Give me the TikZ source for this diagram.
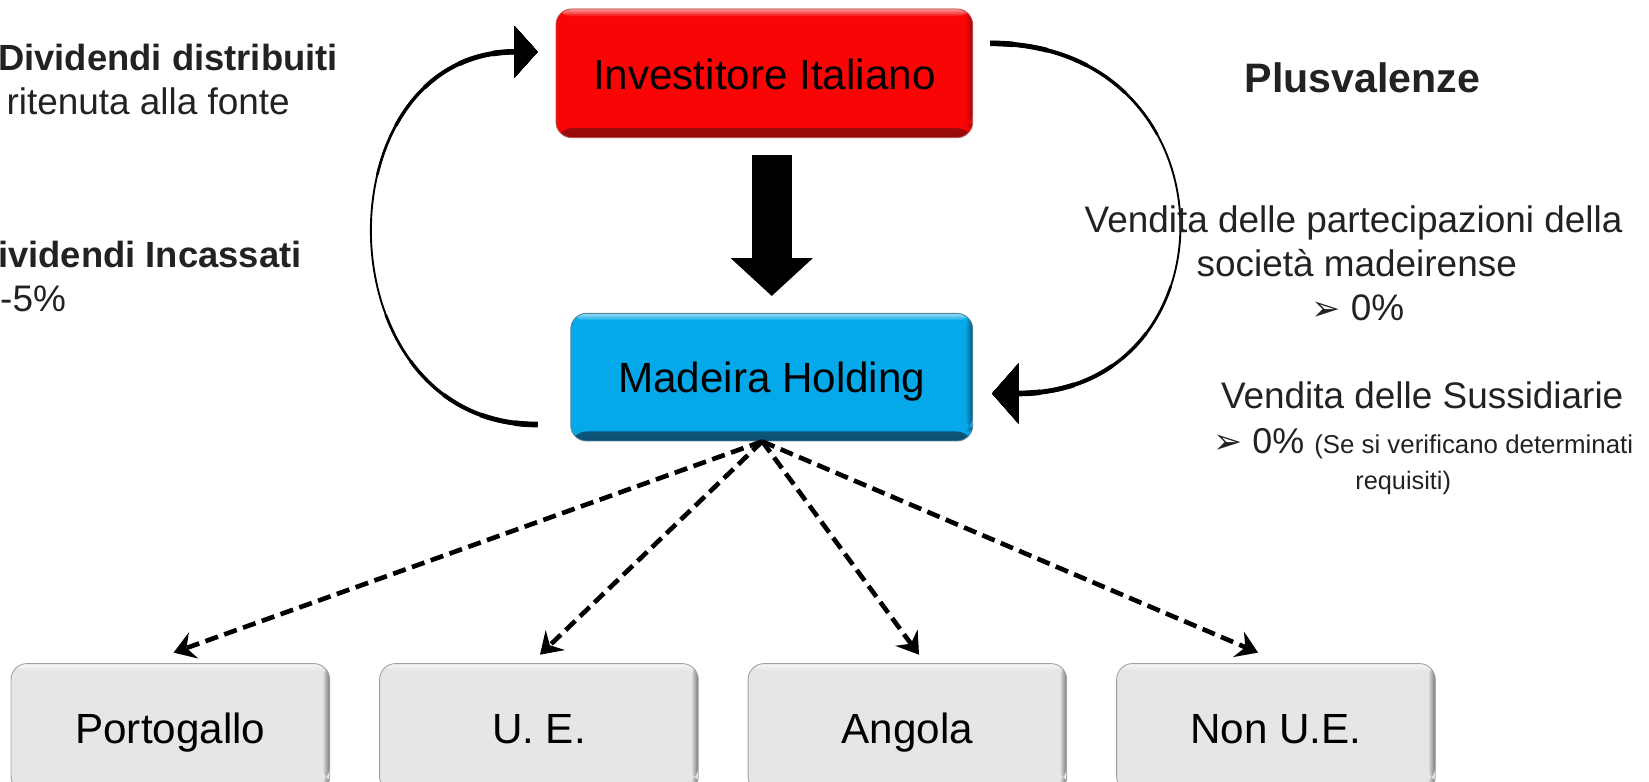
\documentclass[tikz,border=0pt]{standalone}
\usepackage{fontspec}
\setmainfont{Liberation Sans}
\newfontfamily\dingfont{DejaVu Sans}
\usetikzlibrary{arrows.meta,positioning,calc}

\definecolor{boxred}{RGB}{250,5,5}
\definecolor{boxredd}{RGB}{150,10,10}
\definecolor{boxblue}{RGB}{5,168,232}
\definecolor{boxblued}{RGB}{12,80,115}
\definecolor{boxgrey}{RGB}{230,230,230}
\definecolor{boxgreyd}{RGB}{120,120,120}
\definecolor{textgrey}{RGB}{34,34,34}

\newcommand{\setfs}[2]{\fontsize{#1}{#2}\selectfont}

\begin{document}
\begin{tikzpicture}[x=1pt, y=1pt, node distance=46.5pt,
  bevel/.style 2 args = {fill=#1, draw=#2!70, line width=0.8pt, path picture={
      \shade[top color=#1, bottom color=#2] ([yshift=9pt]path picture bounding box.south west) rectangle (path picture bounding box.south east);
      \shade[left color=#1, right color=#2] ([xshift=-7pt]path picture bounding box.north east) rectangle ([yshift=9pt]path picture bounding box.south east);
      \shade[top color=white!60!#1, bottom color=#1] (path picture bounding box.north west) rectangle ([yshift=-7pt]path picture bounding box.north east);}},
  box/.style = {rounded corners=15pt, minimum height=122pt, inner sep=0pt, text height=37pt, text depth=7pt, font=\setfs{40}{48}},
  redbox/.style = {box, bevel={boxred}{boxredd}, minimum width=395pt},
  bluebox/.style = {box, bevel={boxblue}{boxblued}, minimum width=381pt, minimum height=121pt},
  greybox/.style = {box, bevel={boxgrey}{boxgreyd}, minimum width=302pt},
  txt/.style = {inner sep=0pt, text=textgrey},
  ltip/.style = {line width=1.8pt, -{Triangle[length=22pt,width=48pt]}},
  rtip/.style = {line width=1.8pt, -{Triangle[length=25pt,width=56pt]}},
  subarrow/.style = {line width=4.4pt, dash pattern=on 12.6pt off 6.3pt, -{Stealth[length=20pt,width=26pt,inset=7pt]}}]
    \useasboundingbox (0,0) rectangle (1563,741);

    \node[redbox] (inv) at (724.5,671.5) {Investitore Italiano};
    \node[bluebox] (mh) at (731.5,383.5) {Madeira Holding};
    \node[greybox] (port) at (161.5,51) {Portogallo};
    \node[greybox, right=of port] (ue) {U. E.};
    \node[greybox, right=of ue] (ang) {Angola};
    \node[greybox, right=of ang] (nonue) {Non U.E.};

    % big arrow
    \draw[line width=38pt, -{Triangle[length=36pt,width=76pt]}] ($(mh.north |- inv.south)+(0,-16)$) -- ([yshift=16pt]mh.north);

    % dividends and capital gains
    \coordinate (l1) at ([xshift=-31pt,yshift=16pt]mh.south west);
    \coordinate (l2) at ([xshift=-17pt,yshift=-41pt]inv.north west);
    \coordinate (r1) at ([xshift=16pt,yshift=-33pt]inv.north east);
    \coordinate (r2) at ([xshift=18pt,yshift=-15.5pt]mh.east);
    \draw[ltip] (l1) .. controls +(-207,0) and +(-207,0) .. (l2);
    \draw[rtip] (r1) .. controls +(236,0) and +(234,0) .. (r2);
    % thicker ends
    \foreach \w/\l in {2.5/190, 3.2/140, 3.9/95, 4.6/55, 5.3/22} {
        \draw[ltip, line width=\w pt, dash pattern=on \l pt off 2000pt] (l1) .. controls +(-207,0) and +(-207,0) .. (l2);
        \draw[ltip, {Triangle[length=22pt,width=48pt]}-, line width=\w pt, dash pattern=on \l pt off 2000pt] (l2) .. controls +(-207,0) and +(-207,0) .. (l1);
        \draw[rtip, line width=\w pt, dash pattern=on \l pt off 2000pt] (r1) .. controls +(236,0) and +(234,0) .. (r2);
        \draw[rtip, {Triangle[length=25pt,width=56pt]}-, line width=\w pt, dash pattern=on \l pt off 2000pt] (r2) .. controls +(234,0) and +(236,0) .. (r1);
    }

    % subsidiaries
    \coordinate (hub) at ([xshift=-9pt]mh.south);
    \draw[subarrow] (hub) -- ([xshift=3pt,yshift=10pt]port.north);
    \draw[subarrow] (hub) -- ([xshift=1pt,yshift=8pt]ue.north);
    \draw[subarrow] (hub) -- ([xshift=11pt,yshift=8pt]ang.north);
    \draw[subarrow] (hub) -- ([xshift=-17pt,yshift=10pt]nonue.north);

    \node[txt, anchor=base west, font=\setfs{34.5}{41}\bfseries] (divd) at (-2,674) {Dividendi distribuiti};
    \node[txt, anchor=base west, font=\setfs{35}{41}] (rit) at (6,632) {ritenuta alla fonte};
    \node[txt, anchor=base west, font=\setfs{34.5}{41}\bfseries] (divi) at (-2,487) {ividendi Incassati};
    \node[txt, anchor=base west, font=\setfs{35}{41}] (perc) at (0,446) {-5\%};

    \node[txt, anchor=base, font=\setfs{39}{46}\bfseries] (plus) at (1291.5,653) {Plusvalenze};
    \node[txt, anchor=base, font=\setfs{35}{42}] (vp1) at (1283,521) {Vendita delle partecipazioni della};
    \node[txt, anchor=base, font=\setfs{35}{42}] (vp2) at (1286,479) {società madeirense};
    \node[txt, anchor=base, font=\setfs{35}{42}] (vp3) at (1287,437) {{\dingfont\setfs{33}{38}➢} 0\%};
    \node[txt, anchor=base, font=\setfs{35}{42}] (vs1) at (1348,354) {Vendita delle Sussidiarie};
    \node[txt, anchor=base, font=\setfs{34}{40}] (vs2) at (1349,311) {{\dingfont\setfs{33}{38}➢} 0\% {\setfs{24.5}{28}(Se si verificano determinati}};
    \node[txt, anchor=base, font=\setfs{24}{28}] (vs3) at (1330,277) {requisiti)};
\end{tikzpicture}
\end{document}
